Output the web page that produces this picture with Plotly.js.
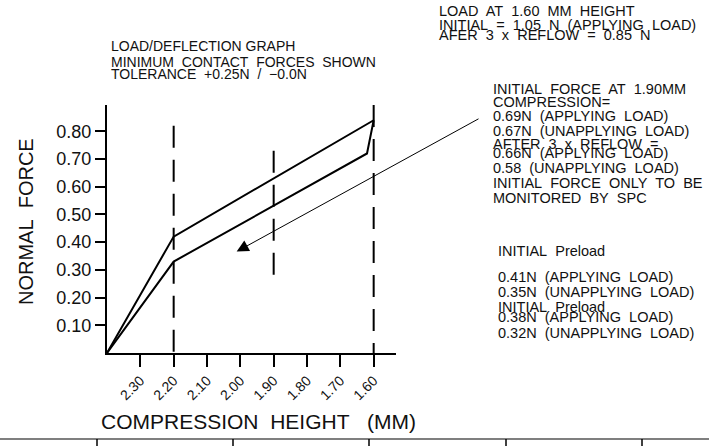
<!DOCTYPE html>
<html>
<head>
<meta charset="utf-8">
<script src="https://cdn.plot.ly/plotly-3.0.1.min.js"></script>
<style>html,body{margin:0;padding:0;background:#fff;}#chart{width:709px;height:446px;}</style>
</head>
<body>
<div id="chart"></div>
<script>
// ---- data ----
const applyingHeight = [2.40, 2.20, 1.60];
const applyingForce = [0.00, 0.42, 0.84];
const unapplyingHeight = [2.40, 2.20, 1.62, 1.60];
const unapplyingForce = [0.00, 0.33, 0.72, 0.84];
const guideHeight = [2.20, 1.90, 1.60];
const guideTop = [0.82, 0.73, 0.895];
const guideBottom = [0.00, 0.25, 0.00];
const xTickVals = [2.30, 2.20, 2.10, 2.00, 1.90, 1.80, 1.70, 1.60];
const xTickText = ["2.30", "2.20", "2.10", "2.00", "1.90", "1.80", "1.70", "1.60"];
const yTickVals = [0.10, 0.20, 0.30, 0.40, 0.50, 0.60, 0.70, 0.80];
const yTickText = ["0.10", "0.20", "0.30", "0.40", "0.50", "0.60", "0.70", "0.80"];
const arrowTip = [2.011, 0.366];
const arrowTail = [1.281, 0.848];

const S = "\u00a0";
const topLeftNotes = ["LOAD/DEFLECTION" + S + "GRAPH", "MINIMUM" + S + " CONTACT" + S + " FORCES" + S + " SHOWN", "TOLERANCE" + S + " +0.25N" + S + " /" + S + " \u22120.0N"];
const topRightNotes = ["LOAD" + S + " AT" + S + " 1.60" + S + " MM" + S + " HEIGHT", "INITIAL" + S + " =" + S + " 1.05" + S + " N" + S + " (APPLYING" + S + " LOAD)", "AFER" + S + " 3" + S + " x" + S + " REFLOW" + S + " =" + S + " 0.85" + S + " N"];
const midNotes = ["INITIAL" + S + " FORCE" + S + " AT" + S + " 1.90MM", "COMPRESSION=", "0.69N" + S + " (APPLYING" + S + " LOAD)", "0.67N" + S + " (UNAPPLYING" + S + " LOAD)", "AFTER" + S + " 3" + S + " x" + S + " REFLOW" + S + " =", "0.66N" + S + " (APPLYING" + S + " LOAD)", "0.58" + S + " (UNAPPLYING" + S + " LOAD)", "INITIAL" + S + " FORCE" + S + " ONLY" + S + " TO" + S + " BE", "MONITORED" + S + " BY" + S + " SPC"];
const lowNotes = ["INITIAL" + S + " Preload", "0.41N" + S + " (APPLYING" + S + " LOAD)", "0.35N" + S + " (UNAPPLYING" + S + " LOAD)", "INITIAL" + S + " Preload", "0.38N" + S + " (APPLYING" + S + " LOAD)", "0.32N" + S + " (UNAPPLYING" + S + " LOAD)"];

// ---- layout geometry (pixels) ----
const W = 709, H = 446;
const M = {l: 107, r: 313, t: 105, b: 93};
const PW = W - M.l - M.r, PH = H - M.t - M.b;
const px = v => (v - M.l) / PW;
const py = v => (H - M.b - v) / PH;
const FONT = "Liberation Sans, Arial, sans-serif";
const INK = "#111";

const traces = [];
guideHeight.forEach((h, i) => {
  traces.push({x: [h, h], y: [guideTop[i], guideBottom[i]], mode: "lines", cliponaxis: false,
    line: {color: "#000", width: 2, dash: "22px,12px"}, hoverinfo: "skip", showlegend: false});
});
traces.push({x: applyingHeight, y: applyingForce, mode: "lines", cliponaxis: false,
  line: {color: "#000", width: 2}, showlegend: false});
traces.push({x: unapplyingHeight, y: unapplyingForce, mode: "lines", cliponaxis: false,
  line: {color: "#000", width: 2}, showlegend: false});

const ann = [];
function addBlock(lines, xPix, centers, size) {
  lines.forEach((t, i) => ann.push({text: t, xref: "paper", yref: "paper", x: px(xPix), y: py(centers[i]),
    xanchor: "left", yanchor: "middle", showarrow: false, font: {family: FONT, size: size, color: INK}}));
}
addBlock(topLeftNotes, 109, [46, 61.5, 74], 14);
addBlock(topRightNotes, 437, [11, 25, 34.5], 14.5);
addBlock(midNotes, 491, [89, 102, 116, 131, 144, 153, 168, 183, 198], 14.5);
addBlock(lowNotes, 496, [251, 277, 292, 306.5, 317, 333], 14.5);

ann.push({text: "COMPRESSION" + S + S + "HEIGHT" + S + S + S + "(MM)", xref: "paper", yref: "paper", x: px(99), y: py(421),
  xanchor: "left", yanchor: "middle", showarrow: false, font: {family: FONT, size: 21, color: INK}});
ann.push({text: "NORMAL" + S + " FORCE", xref: "paper", yref: "paper", x: px(26), y: py(222), textangle: -90,
  xanchor: "center", yanchor: "middle", showarrow: false, font: {family: FONT, size: 20, color: INK}});
ann.push({text: "", x: arrowTip[0], y: arrowTip[1], xref: "x", yref: "y", ax: arrowTail[0], ay: arrowTail[1],
  axref: "x", ayref: "y", showarrow: true, arrowhead: 2, arrowsize: 2.4, arrowwidth: 1, arrowcolor: "#000"});

const shapes = [{type: "line", xref: "paper", yref: "paper", x0: px(0), x1: px(W), y0: py(439), y1: py(439),
  line: {color: "#555", width: 1.5}}];
[97, 233, 369, 506, 642].forEach(v => shapes.push({type: "line", xref: "paper", yref: "paper",
  x0: px(v), x1: px(v), y0: py(439), y1: py(447), line: {color: "#000", width: 1.5}}));

const layout = {
  width: W, height: H, margin: M, paper_bgcolor: "#fff", plot_bgcolor: "#fff", showlegend: false,
  font: {family: FONT, color: INK},
  xaxis: {range: [2.40, 1.533], tickvals: xTickVals, ticktext: xTickText, tickangle: -45,
    ticks: "outside", ticklen: 12, tickwidth: 2, tickcolor: "#000", showline: true, linewidth: 2, linecolor: "#000",
    showgrid: false, zeroline: false, tickfont: {family: FONT, size: 14, color: INK}},
  yaxis: {range: [0, 0.895], tickvals: yTickVals, ticktext: yTickText,
    ticks: "outside", ticklen: 10, tickwidth: 2, tickcolor: "#000", showline: true, linewidth: 2, linecolor: "#000",
    showgrid: false, zeroline: false, tickfont: {family: FONT, size: 18, color: INK}},
  annotations: ann, shapes: shapes
};
Plotly.newPlot("chart", traces, layout, {staticPlot: true, displayModeBar: false});
</script>
</body>
</html>
